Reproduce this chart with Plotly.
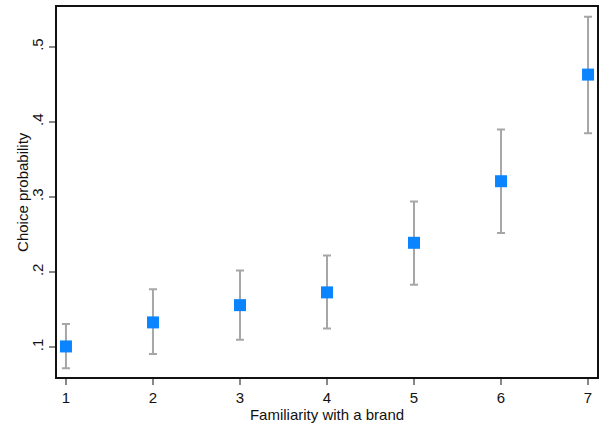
import plotly.graph_objects as go

familiarity = [1, 2, 3, 4, 5, 6, 7]
prob = [0.101, 0.133, 0.156, 0.173, 0.239, 0.321, 0.463]
ci_high = [0.131, 0.177, 0.202, 0.222, 0.294, 0.390, 0.540]
ci_low = [0.072, 0.091, 0.110, 0.125, 0.183, 0.252, 0.385]
y_ticks = [0.1, 0.2, 0.3, 0.4, 0.5]
y_ticklabels = [".1", ".2", ".3", ".4", ".5"]

err_plus = [h - p for h, p in zip(ci_high, prob)]
err_minus = [p - l for p, l in zip(prob, ci_low)]

fig = go.Figure()
fig.add_trace(go.Scatter(
    x=familiarity, y=prob, mode="markers",
    marker=dict(symbol="square", size=12, color="#0a84ff", line=dict(width=0)),
    error_y=dict(type="data", symmetric=False, array=err_plus, arrayminus=err_minus,
                 color="#a6a6a6", thickness=2, width=4),
    showlegend=False,
))

font = dict(family="Liberation Sans, Arial, sans-serif", size=15, color="#111")
fig.update_layout(
    width=605, height=423,
    margin=dict(l=57, r=8, t=5, b=46),
    paper_bgcolor="white", plot_bgcolor="white",
    font=font,
    xaxis=dict(range=[0.897, 7.103], tickvals=familiarity, ticks="outside", ticklen=6,
               tickcolor="#888", tickwidth=1.5, showline=True, linecolor="#111", linewidth=1.5,
               mirror=True, showgrid=False, zeroline=False,
               title=dict(text="Familiarity with a brand", standoff=2, font=font)),
    yaxis=dict(range=[0.0603, 0.553], tickvals=y_ticks, ticktext=y_ticklabels, tickangle=-90,
               ticks="outside", ticklen=6, tickcolor="#888", tickwidth=1.5,
               showline=True, linecolor="#111", linewidth=1.5, mirror=True,
               showgrid=False, zeroline=False),
    annotations=[dict(text="Choice probability", textangle=-90, xref="paper", yref="paper",
                      x=-0.065, y=0.5, xanchor="center", yanchor="middle",
                      showarrow=False, font=font)],
)
fig.write_html("out.html")
